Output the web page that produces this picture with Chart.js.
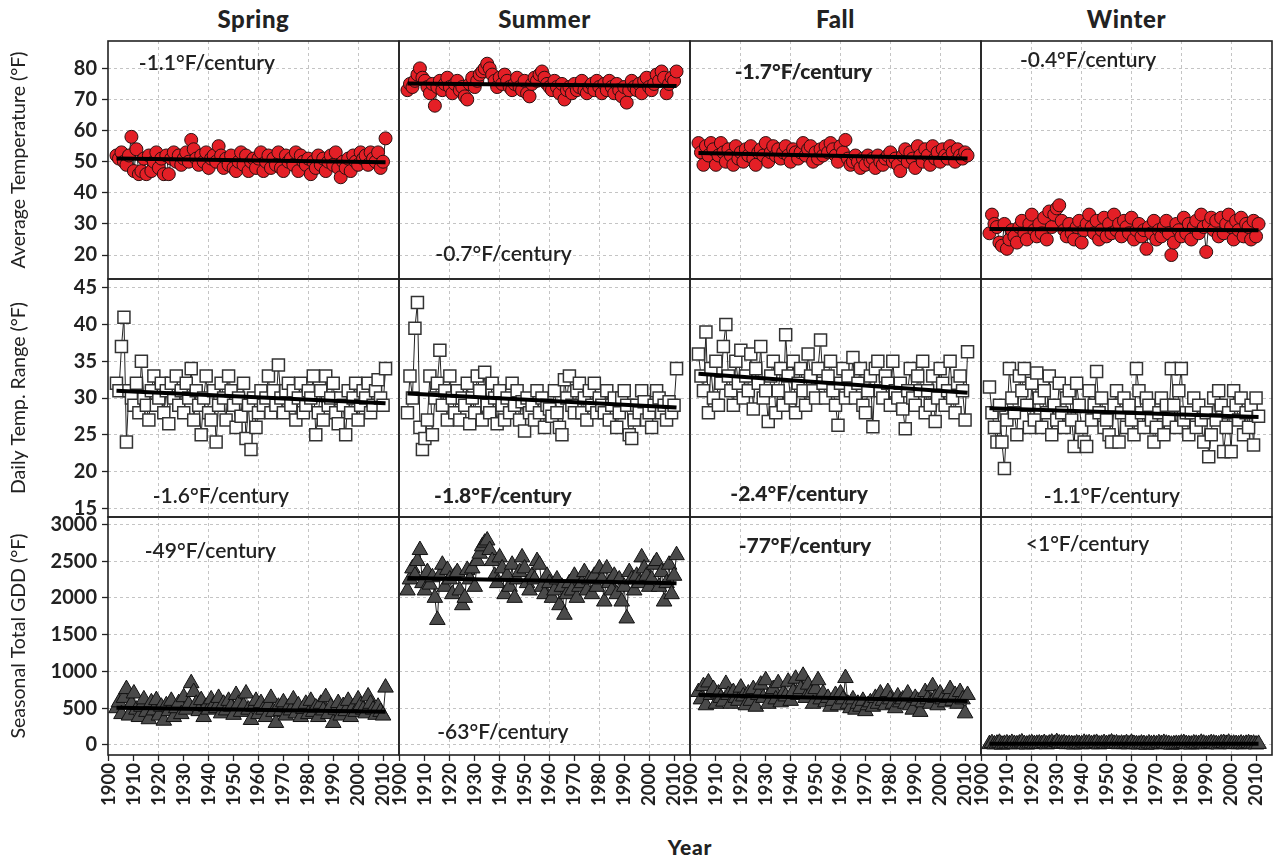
<!DOCTYPE html>
<html>
<head>
<meta charset="utf-8">
<script src="https://cdn.jsdelivr.net/npm/chart.js@4.4.1/dist/chart.umd.min.js"></script>
<style>
  body { margin: 0; background: #fff; }
  #wrap { position: relative; width: 1276px; height: 857px; overflow: hidden; font-family: Lato, 'Noto Sans', sans-serif; color: #222; }
  #wrap canvas { position: absolute; }
  .col-title { position: absolute; top: 4px; width: 291px; text-align: center; font-weight: 900; font-size: 24px; letter-spacing: 0.6px; }
  #xtitle { position: absolute; left: 590px; width: 200px; top: 834px; text-align: center; font-weight: 900; font-size: 21px; letter-spacing: 0.8px; }
</style>
</head>
<body>
<div id="wrap">
  <div class="col-title" style="left:108px">Spring</div>
  <div class="col-title" style="left:399px">Summer</div>
  <div class="col-title" style="left:690px">Fall</div>
  <div class="col-title" style="left:981px">Winter</div>
  <div id="xtitle">Year</div>
</div>
<script>
// years 1903 - 2011
const firstYear = 1903;
const lastYear = 2011;
const years = Array.from({length: lastYear - firstYear + 1}, (_, i) => firstYear + i);
const trendYears = [1903, 2011];

// tick labels
const yearTicks = [1900, 1910, 1920, 1930, 1940, 1950, 1960, 1970, 1980, 1990, 2000, 2010];
const tempTicks = [20, 30, 40, 50, 60, 70, 80];
const rangeTicks = [15, 20, 25, 30, 35, 40, 45];
const gddTicks = [0, 500, 1000, 1500, 2000, 2500, 3000];

// Average temperature (F)
const springTemp = [52, 51, 53, 50, 49, 52, 58, 47, 54, 46,
  47, 51, 46, 52, 47, 50, 53, 48, 51, 46,
  52, 46, 51, 53, 50, 52, 49, 51, 53, 50,
  57, 54, 51, 49, 52, 50, 53, 48, 51, 52,
  50, 55, 52, 48, 51, 49, 52, 48, 47, 50,
  53, 49, 52, 47, 50, 51, 48, 51, 53, 47,
  50, 52, 48, 51, 49, 53, 48, 47, 52, 50,
  51, 49, 53, 47, 52, 50, 49, 51, 46, 50,
  48, 52, 49, 51, 47, 50, 52, 49, 53, 48,
  45, 50, 48, 51, 47, 52, 50, 49, 53, 51,
  52, 49, 53, 51, 50, 53, 48, 50, 57.5];
const summerTemp = [73, 75, 74, 76, 78, 80, 77, 76, 74, 72,
  75, 68, 74, 76, 73, 75, 77, 74, 72, 75,
  76, 73, 74, 71, 70, 75, 77, 74, 76, 78,
  79, 80, 81.5, 80, 78, 76, 74, 77, 75, 78,
  76, 74, 73, 75, 77, 74, 73, 76, 72, 71,
  75, 77, 76, 78, 79, 77, 75, 74, 73, 76,
  74, 72, 75, 70, 73, 74, 72, 75, 73, 74,
  76, 73, 72, 74, 75, 73, 76, 74, 72, 75,
  73, 76, 74, 72, 75, 73, 71, 74, 69, 73,
  76, 74, 73, 75, 72, 76, 77, 74, 73, 75,
  78, 76, 79, 77, 72, 75, 77, 76, 79];
const fallTemp = [56, 53, 49, 55, 52, 56, 54, 49, 52, 56,
  53, 50, 54, 52, 49, 55, 51, 53, 50, 54,
  52, 55, 51, 49, 53, 54, 52, 56, 50, 53,
  55, 52, 54, 51, 53, 55, 52, 50, 54, 53,
  51, 53, 56, 52, 54, 55, 50, 53, 51, 54,
  52, 55, 53, 56, 54, 52, 50, 55, 53, 57,
  51, 49, 50, 52, 50, 48, 51, 49, 52, 50,
  51, 48, 52, 50, 49, 51, 52, 53, 50, 51,
  49, 47, 52, 54, 50, 53, 51, 48, 55, 52,
  50, 54, 52, 49, 55, 51, 53, 50, 54, 52,
  51, 55, 53, 50, 54, 52, 51, 53, 52];
const winterTemp = [27, 33, 30, 29, 24, 23, 30, 22, 25, 28,
  26, 24, 29, 31, 27, 25, 30, 33, 28, 26,
  30, 27, 32, 25, 34, 29, 33, 35, 36, 31,
  28, 26, 30, 27, 25, 29, 31, 24, 28, 30,
  33, 29, 27, 31, 25, 28, 32, 26, 30, 27,
  33, 28, 30, 26, 31, 29, 27, 32, 25, 28,
  30, 26, 28, 22, 29, 27, 31, 25, 28, 26,
  29, 31, 27, 20, 24, 30, 28, 26, 32, 27,
  30, 25, 29, 31, 27, 33, 29, 21, 30, 32,
  28, 31, 26, 32, 27, 30, 33, 29, 25, 31,
  28, 32, 26, 30, 29, 25, 31, 26, 30];

// Daily temperature range (F)
const springRange = [32, 31, 37, 41, 24, 31, 30, 29, 32, 28,
  35, 30, 29, 27, 31, 33, 29, 30, 32, 28,
  31, 26.5, 32, 30, 33, 29, 31, 28, 32, 30,
  34, 27, 31, 29, 25, 30, 33, 28, 27, 31,
  24, 29, 32, 30, 27, 33, 31, 29, 26, 30,
  27.5, 32, 24.5, 29, 23, 30, 26, 28, 31, 29,
  30, 33, 28, 31, 29, 34.5, 30, 28, 31, 32,
  29, 31, 27, 30, 32, 28, 29, 31, 30, 33,
  25, 28, 31, 27, 33, 29, 30, 32, 28, 26.5,
  30, 29, 25, 31, 28, 30, 32, 27, 29, 31,
  30, 32, 28, 29, 31, 32.5, 30, 29, 34];
const summerRange = [28, 33, 30, 39.5, 43, 26, 23, 24.5, 27, 33,
  25, 30, 32, 36.5, 29, 31, 27, 33, 30, 28,
  31, 27, 30, 29, 32, 26.5, 30, 28, 33, 31,
  27, 33.5, 29, 28, 32, 30, 26.5, 31, 29, 27,
  30, 28, 32, 29, 31, 27, 29.5, 25.5, 30, 28,
  29, 27, 31, 28, 30, 26, 29, 28.5, 27.5, 31,
  28, 26, 25, 32.5, 30, 33, 29, 28, 31, 32,
  28, 30, 27, 31, 29, 32, 28, 30, 29, 28,
  31, 27, 29, 30, 26, 28, 30, 31, 29, 25,
  24.5, 27, 29, 28, 31, 29.5, 27, 28, 26, 29,
  31, 30, 28, 29, 27, 29.5, 28, 29, 34];
const fallRange = [36, 33, 31, 39, 28, 34, 30, 35, 29, 32,
  37, 40, 33, 31, 29, 35, 32, 36.5, 30, 33,
  31, 36, 28.5, 34, 32, 37, 30, 31, 26.8, 33,
  35, 28, 31, 34, 29, 38.6, 33, 30, 35, 28,
  32, 34, 31, 29, 36, 33, 31, 30, 34, 37.9,
  32, 30, 33, 35, 31, 29, 26.3, 32, 34, 30,
  33, 31, 35.5, 30, 32, 34, 29, 28, 31, 33,
  26.1, 34, 35, 31, 30, 33, 32, 29, 35, 31,
  30, 32, 28.5, 25.8, 31, 34, 30, 29, 33, 31,
  35, 28, 31, 29, 33, 26.8, 30, 34, 32, 29,
  31, 35, 30, 28, 32, 33, 31, 27, 36.3];
const winterRange = [31.5, 28, 26, 24, 29, 24, 20.4, 27, 34, 30,
  28, 25, 33, 31, 34, 29, 26, 32, 27, 33.4,
  30, 26, 31, 28, 33, 25, 29, 27, 32, 28,
  26, 30, 31, 27, 23.4, 32, 29, 26, 24, 23.4,
  31, 27, 29, 33.6, 28, 30, 26, 27, 25, 24,
  29, 31, 24, 28, 30, 26, 29, 27, 25, 34,
  31, 28, 26, 30, 29, 27, 24, 26, 28, 30,
  25, 29, 27, 34, 29, 26, 31, 34, 27, 28,
  25, 28, 30, 26, 29, 27, 24, 28, 22, 25,
  30, 27, 31, 29, 22.7, 26, 28, 22.7, 31, 29,
  27, 30, 25, 28, 26, 29, 23.6, 30, 27.5];

// Seasonal total growing degree days (F)
const springGdd = [500, 580, 420, 640, 760, 400, 560, 700, 480, 380,
  520, 620, 450, 350, 580, 470, 610, 400, 520, 330,
  540, 460, 600, 380, 500, 570, 420, 650, 480, 550,
  840, 720, 560, 460, 610, 380, 520, 480, 620, 540,
  500, 640, 430, 560, 470, 600, 520, 410, 680, 560,
  450, 530, 700, 480, 340, 520, 600, 420, 570, 480,
  380, 540, 640, 450, 300, 520, 460, 580, 400, 510,
  470, 620, 430, 540, 380, 490, 560, 420, 600, 450,
  510, 380, 560, 470, 650, 420, 520, 300, 480, 570,
  400, 530, 460, 600, 380, 510, 450, 620, 540, 480,
  430, 660, 560, 480, 410, 520, 450, 400, 780];
const summerGdd = [2100, 2250, 2400, 2300, 2500, 2650, 2200, 2100, 2350, 2180,
  2280, 2000, 1700, 2300, 2450, 2150, 2380, 2250, 2050, 2300,
  2350, 2100, 1900, 2000, 2380, 2250, 2400, 2150, 2500, 2600,
  2700, 2750, 2780, 2650, 2500, 2300, 2200, 2550, 2400, 2050,
  2300, 2150, 2450, 2000, 2250, 2350, 2550, 2400, 2200, 2100,
  2300, 2250, 2500, 2450, 2150, 2050, 2300, 2200, 2000, 2100,
  2250, 1900, 2150, 1770, 2050, 2200, 2100, 2300, 2000, 2150,
  2200, 2350, 2100, 2250, 2050, 2300, 2150, 2400, 2250, 1950,
  2400, 2200, 2100, 2300, 2050, 2250, 1950, 2150, 1720, 2350,
  2250, 2100, 2300, 2200, 2550, 2400, 2300, 2150, 2250, 2450,
  2500, 2150, 2350, 1950, 2200, 2450, 2050, 2300, 2580];
const fallGdd = [720, 620, 800, 540, 850, 680, 760, 560, 700, 640,
  590, 830, 680, 560, 720, 640, 600, 780, 660, 540,
  700, 600, 760, 520, 680, 820, 640, 880, 560, 700,
  760, 620, 840, 580, 700, 660, 860, 600, 720, 900,
  680, 760, 940, 640, 820, 700, 560, 760, 880, 620,
  700, 580, 640, 520, 600, 680, 540, 700, 620, 910,
  560, 500, 620, 480, 560, 520, 600, 460, 540, 580,
  520, 640, 560, 700, 600, 540, 720, 620, 560, 500,
  660, 580, 620, 560, 700, 540, 480, 640, 600, 450,
  580, 720, 620, 560, 800, 640, 540, 700, 620, 580,
  640, 760, 600, 680, 560, 720, 620, 430, 680];
const winterGdd = [12, 25, 8, 18, 30, 5, 15, 22, 10, 28,
  14, 9, 20, 35, 12, 6, 18, 24, 11, 16,
  20, 13, 27, 8, 19, 32, 15, 40, 22, 18,
  25, 10, 16, 12, 7, 21, 14, 9, 30, 17,
  24, 11, 19, 28, 8, 15, 26, 13, 20, 34,
  16, 22, 10, 18, 12, 25, 9, 30, 14, 11,
  7, 19, 13, 5, 22, 10, 16, 8, 24, 14,
  28, 17, 12, 4, 9, 15, 11, 20, 26, 13,
  10, 6, 21, 16, 12, 30, 18, 8, 14, 25,
  19, 12, 8, 22, 27, 15, 31, 10, 17, 13,
  11, 20, 9, 16, 24, 14, 18, 7, 15];

// linear trend end values (1903, 2011)
const springTempTrend = [51.0, 49.8];
const summerTempTrend = [75.1, 74.3];
const fallTempTrend = [52.8, 51.0];
const winterTempTrend = [28.4, 28.0];
const springRangeTrend = [31.0, 29.3];
const summerRangeTrend = [30.6, 28.7];
const fallRangeTrend = [33.3, 30.7];
const winterRangeTrend = [28.6, 27.4];
const springGddTrend = [505, 452];
const summerGddTrend = [2270, 2200];
const fallGddTrend = [680, 597];
const winterGddTrend = [18, 18];

const seasons = ['Spring', 'Summer', 'Fall', 'Winter'];
const rowTitles = ['Average Temperature (°F)', 'Daily Temp. Range (°F)', 'Seasonal Total GDD (°F)'];
const trendLabels = [
  ['-1.1°F/century', '-0.7°F/century', '-1.7°F/century', '-0.4°F/century'],
  ['-1.6°F/century', '-1.8°F/century', '-2.4°F/century', '-1.1°F/century'],
  ['-49°F/century', '-63°F/century', '-77°F/century', '<1°F/century']
];

const series = [
  [springTemp, summerTemp, fallTemp, winterTemp],
  [springRange, summerRange, fallRange, winterRange],
  [springGdd, summerGdd, fallGdd, winterGdd]
];
const trends = [
  [springTempTrend, summerTempTrend, fallTempTrend, winterTempTrend],
  [springRangeTrend, summerRangeTrend, fallRangeTrend, winterRangeTrend],
  [springGddTrend, summerGddTrend, fallGddTrend, winterGddTrend]
];
const rowTicks = [tempTicks, rangeTicks, gddTicks];

// layout
const PLOT_LEFT = 108, PLOT_TOP = 41, CELL_W = 291, CELL_H = 238;
const Y_AXIS_W = 108, X_AXIS_H = 62, PAD = 3, PAD_X = 14;

const rowScales = [
  {min: 12.3, max: 88.8},
  {min: 13.8, max: 46.2},
  {min: -136, max: 3099}
];
const markerStyles = [
  {pointStyle: 'circle', radius: 6.5, fill: '#e41f26', stroke: '#2a1010', width: 1},
  {pointStyle: 'rect', radius: 8.5, fill: '#ffffff', stroke: '#333333', width: 1.5},
  {pointStyle: 'triangle', radius: 9, fill: '#4a4a4a', stroke: '#111111', width: 1}
];
// note placement as fraction of the panel (centre of text)
const notePlace = [
  [{fx: 0.34, fy: 0.092, bold: false}, {fx: 0.359, fy: 0.895, bold: false}, {fx: 0.39, fy: 0.13, bold: true}, {fx: 0.368, fy: 0.08, bold: false}],
  [{fx: 0.388, fy: 0.912, bold: false}, {fx: 0.357, fy: 0.912, bold: true}, {fx: 0.375, fy: 0.903, bold: true}, {fx: 0.45, fy: 0.912, bold: false}],
  [{fx: 0.352, fy: 0.143, bold: false}, {fx: 0.357, fy: 0.903, bold: false}, {fx: 0.395, fy: 0.122, bold: true}, {fx: 0.366, fy: 0.113, bold: false}]
];

Chart.defaults.font.family = "Lato, 'Noto Sans', sans-serif";
Chart.defaults.color = '#222';

const panelPlugin = {
  id: 'panel',
  afterDatasetsDraw(chart, args, opts) {
    const a = chart.chartArea;
    const ctx = chart.ctx;
    ctx.save();
    ctx.strokeStyle = '#222';
    ctx.lineWidth = 1.6;
    ctx.strokeRect(a.left, a.top, a.right - a.left, a.bottom - a.top);
    ctx.font = (opts.bold ? '900 ' : '600 ') + '21px Lato, "Noto Sans", sans-serif';
    ctx.fillStyle = '#222';
    ctx.textAlign = 'center';
    ctx.textBaseline = 'middle';
    ctx.fillText(opts.text, a.left + opts.fx * (a.right - a.left), a.top + opts.fy * (a.bottom - a.top));
    ctx.restore();
  }
};

function noPad(scale) {
  scale.paddingLeft = 0;
  scale.paddingRight = 0;
  scale.paddingTop = 0;
  scale.paddingBottom = 0;
}

const wrap = document.getElementById('wrap');

for (let r = 0; r < 3; r++) {
  for (let c = 0; c < 4; c++) {
    const leftCol = c === 0, bottomRow = r === 2;
    const padL = leftCol ? 0 : PAD_X;
    const padR = PAD_X;
    const padB = bottomRow ? 0 : PAD;
    const areaLeft = PLOT_LEFT + c * CELL_W;
    const areaTop = PLOT_TOP + r * CELL_H;
    const cvLeft = areaLeft - padL - (leftCol ? Y_AXIS_W : 0);
    const cvTop = areaTop - PAD;
    const cvW = CELL_W + padL + padR + (leftCol ? Y_AXIS_W : 0);
    const cvH = CELL_H + PAD + padB + (bottomRow ? X_AXIS_H : 0);

    const canvas = document.createElement('canvas');
    canvas.width = cvW;
    canvas.height = cvH;
    canvas.style.left = cvLeft + 'px';
    canvas.style.top = cvTop + 'px';
    canvas.style.width = cvW + 'px';
    canvas.style.height = cvH + 'px';
    wrap.appendChild(canvas);

    const values = series[r][c];
    const trend = trends[r][c];
    const mk = markerStyles[r];
    const sc = rowScales[r];
    const yTicks = rowTicks[r];
    const note = notePlace[r][c];

    new Chart(canvas.getContext('2d'), {
      type: 'line',
      data: {
        datasets: [
          {
            label: 'trend',
            data: trendYears.map((y, i) => ({x: y, y: trend[i]})),
            borderColor: '#000',
            borderWidth: 4,
            pointRadius: 0
          },
          {
            label: seasons[c],
            data: years.map((y, i) => ({x: y, y: values[i]})),
            borderColor: '#222',
            borderWidth: 1,
            pointStyle: mk.pointStyle,
            pointRadius: mk.radius,
            pointBackgroundColor: mk.fill,
            pointBorderColor: mk.stroke,
            pointBorderWidth: mk.width
          }
        ]
      },
      options: {
        responsive: false,
        animation: false,
        devicePixelRatio: 1,
        layout: {autoPadding: false, padding: {left: padL, right: padR, top: PAD, bottom: padB}},
        plugins: {
          legend: {display: false},
          tooltip: {enabled: false},
          panel: {text: trendLabels[r][c], fx: note.fx, fy: note.fy, bold: note.bold}
        },
        scales: {
          x: {
            type: 'linear',
            min: 1899.6,
            max: 2016.4,
            border: {display: false, dash: [3, 3]},
            grid: {
              color: (ctx) => (ctx.tick && ctx.tick.value % 20 === 0 && ctx.tick.value !== 1900) ? '#c4c4c4' : 'rgba(0,0,0,0)',
              lineWidth: 1,
              drawTicks: bottomRow,
              tickLength: 6,
              tickColor: '#222',
              tickWidth: 1.3
            },
            ticks: {
              display: bottomRow,
              autoSkip: false,
              minRotation: 90,
              maxRotation: 90,
              padding: 2,
              color: '#222',
              font: {size: 18.5, weight: 'bold'},
              callback: (v) => String(v)
            },
            afterBuildTicks: (scale) => { scale.ticks = yearTicks.map(v => ({value: v})); },
            afterFit: (scale) => { scale.height = bottomRow ? X_AXIS_H : 0; noPad(scale); }
          },
          y: {
            type: 'linear',
            min: sc.min,
            max: sc.max,
            border: {display: false, dash: [3, 3]},
            grid: {
              color: '#c4c4c4',
              lineWidth: 1,
              drawTicks: leftCol,
              tickLength: 6,
              tickColor: '#222',
              tickWidth: 1.3
            },
            ticks: {
              display: leftCol,
              autoSkip: false,
              padding: 5,
              color: '#222',
              font: {size: 20, weight: 'bold'},
              callback: (v) => String(v)
            },
            afterBuildTicks: (scale) => { scale.ticks = yTicks.map(v => ({value: v})); },
            title: {
              display: leftCol,
              text: rowTitles[r],
              color: '#222',
              font: {size: 19.5},
              padding: {top: 7, bottom: 0}
            },
            afterFit: (scale) => { scale.width = leftCol ? Y_AXIS_W : 0; noPad(scale); }
          }
        }
      },
      plugins: [panelPlugin]
    });
  }
}
</script>
</body>
</html>
